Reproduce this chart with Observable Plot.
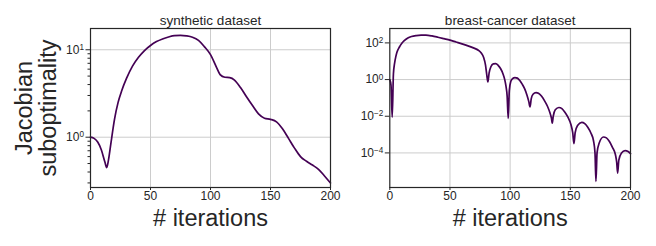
<!DOCTYPE html>
<html>
<head>
<meta charset="utf-8">
<script src="https://cdn.jsdelivr.net/npm/d3@7"></script>
<script src="https://cdn.jsdelivr.net/npm/@observablehq/plot@0.6"></script>
<style>
  html, body { margin: 0; padding: 0; background: #fff; }
  #chart { position: relative; width: 656px; height: 246px; overflow: hidden; }
  #chart svg { position: absolute; top: 0; }
</style>
</head>
<body>
<div id="chart"></div>
<script>
// ---- data ----
const titles = ["synthetic dataset", "breast-cancer dataset"];
const xLabel = "# iterations";
const yLabel = "Jacobian\nsuboptimality";
const xTicks = [0, 50, 100, 150, 200];

const synthIter = [0, 3, 6, 9, 12, 13.5, 15, 17, 20, 23, 26, 30, 35, 40, 45, 50, 55, 60, 65, 70, 75, 80, 85, 90, 95, 100, 105, 108, 112, 116, 120, 125, 130, 135, 140, 145, 150, 155, 160, 165, 170, 175, 180, 185, 190, 195, 200];
const synthVal  = [1.0, 0.97, 0.88, 0.72, 0.52, 0.45, 0.55, 0.85, 1.6, 2.5, 3.4, 4.7, 6.5, 8.2, 9.8, 11.2, 12.4, 13.3, 14.0, 14.5, 14.6, 14.4, 13.9, 12.8, 10.8, 8.8, 6.3, 5.2, 4.85, 4.8, 4.5, 3.7, 2.9, 2.3, 1.85, 1.65, 1.6, 1.5, 1.25, 0.97, 0.75, 0.6, 0.53, 0.48, 0.43, 0.36, 0.3];
const synthMajor = [1, 10];
const synthMinor = [0.3, 0.4, 0.5, 0.6, 0.7, 0.8, 0.9, 2, 3, 4, 5, 6, 7, 8, 9];

const bcIter = [0, 1, 2, 3, 4, 5, 6, 8, 10, 12, 15, 18, 22, 26, 30, 35, 40, 45, 50, 55, 60, 65, 70, 74, 76, 78, 79.5, 80.5, 81.5, 82.5, 84, 86, 88, 90, 92, 94, 95.5, 96.5, 97.5, 98.4, 99.3, 100.5, 102, 104, 106, 108, 110, 112, 114, 115.5, 116.5, 117.5, 119, 121.5, 123.5, 126, 128.5, 131, 133, 134.3, 135, 135.8, 137.5, 140.5, 143, 145.5, 148, 150.5, 152, 153, 154, 156, 159.5, 162, 164.5, 167, 169.3, 170.5, 171.3, 172.2, 174, 177.5, 180, 182.5, 185, 187.5, 188.5, 189.3, 190.3, 192.5, 195.5, 198, 200];
const bcVal = [1.0, 0.5, 0.0089, 2.0, 7.9, 17.8, 31.6, 60, 95, 132, 186, 224, 251, 263, 263, 240, 204, 170, 141, 112, 89, 69, 52, 38, 28, 15.8, 6.3, 2.0, 0.74, 2.24, 5.0, 7.2, 7.4, 6.0, 4.0, 2.1, 1.0, 0.45, 0.126, 0.0076, 0.25, 0.79, 1.12, 1.29, 1.2, 0.89, 0.56, 0.32, 0.14, 0.063, 0.032, 0.089, 0.158, 0.195, 0.178, 0.126, 0.071, 0.035, 0.0158, 0.0079, 0.0042, 0.01, 0.0224, 0.030, 0.026, 0.0166, 0.0089, 0.00355, 0.00126, 0.000324, 0.00126, 0.00316, 0.00468, 0.00398, 0.00251, 0.00126, 0.000447, 0.0001, 2.8e-6, 0.0001, 3.5e-4, 7.4e-4, 6.6e-4, 4.2e-4, 2.0e-4, 7.9e-5, 3.2e-5, 7.9e-6, 4.0e-5, 1.0e-4, 1.35e-4, 1.2e-4, 9.1e-5];
const bcMajor = [1e2, 1e0, 1e-2, 1e-4];

const synth = synthIter.map((x, i) => ({x, y: synthVal[i]}));
const bc = bcIter.map((x, i) => ({x, y: bcVal[i]}));

// ---- drawing ----
const FONT = "'Liberation Sans', Arial, Helvetica, sans-serif";
const INK = "#262626";
const GRID = "#cccccc";
const LINE = "#440154";
const expFmt = d => "10^" + Math.round(Math.log10(d));

function panel({left, width, marginLeft, marginRight, data, yDomain, major, minor, title, withYLabel}) {
  const marks = [
    Plot.gridX([50, 100, 150], {stroke: GRID, strokeOpacity: 1, strokeWidth: 1}),
    Plot.gridY(major, {stroke: GRID, strokeOpacity: 1, strokeWidth: 1}),
    Plot.axisX(xTicks, {label: null, tickSize: 3, tickPadding: 1, fontSize: 12, stroke: INK, fill: INK}),
    Plot.axisY(major, {label: null, tickSize: 4.5, tickPadding: 2, fontSize: 12, tickFormat: expFmt, stroke: INK, fill: INK}),
  ];
  if (minor) marks.push(Plot.axisY(minor, {label: null, tickSize: 2.5, tickFormat: () => "", stroke: INK}));
  marks.push(
    Plot.line(data, {x: "x", y: "y", stroke: LINE, strokeWidth: 1.7, curve: "monotone-x"}),
    Plot.frame({stroke: INK, strokeWidth: 1.2}),
    Plot.text([title], {frameAnchor: "top", lineAnchor: "bottom", dy: -4, fontSize: 13.5, fill: INK}),
    Plot.text([xLabel], {frameAnchor: "bottom", lineAnchor: "middle", dy: 31, fontSize: 23.5, fill: INK})
  );
  if (withYLabel) marks.push(Plot.text([yLabel], {frameAnchor: "left", textAnchor: "middle", lineAnchor: "middle", dx: -54, rotate: -90, fontSize: 23.5, lineHeight: 1.0, fill: INK}));
  const svg = Plot.plot({
    width, height: 246,
    marginLeft, marginRight, marginTop: 28, marginBottom: 59,
    x: {domain: [0, 200]},
    y: {type: "log", domain: yDomain},
    style: {fontFamily: FONT, fontSize: "12px", color: INK, background: "transparent", overflow: "visible"},
    marks
  });
  svg.style.left = left + "px";
  // superscript exponents
  svg.querySelectorAll("text").forEach(t => {
    const m = /^10\^(-?\d+)$/.exec(t.textContent);
    if (m) {
      const e = m[1].replace("-", "\u2212");
      t.innerHTML = `10<tspan dy="-0.45em" font-size="0.68em">${e}</tspan>`;
    }
  });
  return svg;
}

const chart = document.getElementById("chart");
chart.append(panel({left: 0, width: 350, marginLeft: 90, marginRight: 20, data: synth,
  yDomain: [0.266, 17.5], major: synthMajor, minor: synthMinor, title: titles[0], withYLabel: true}));
chart.append(panel({left: 330, width: 326, marginLeft: 59.3, marginRight: 26, data: bc,
  yDomain: [1.3e-6, 610], major: bcMajor, minor: null, title: titles[1], withYLabel: false}));
</script>
</body>
</html>
